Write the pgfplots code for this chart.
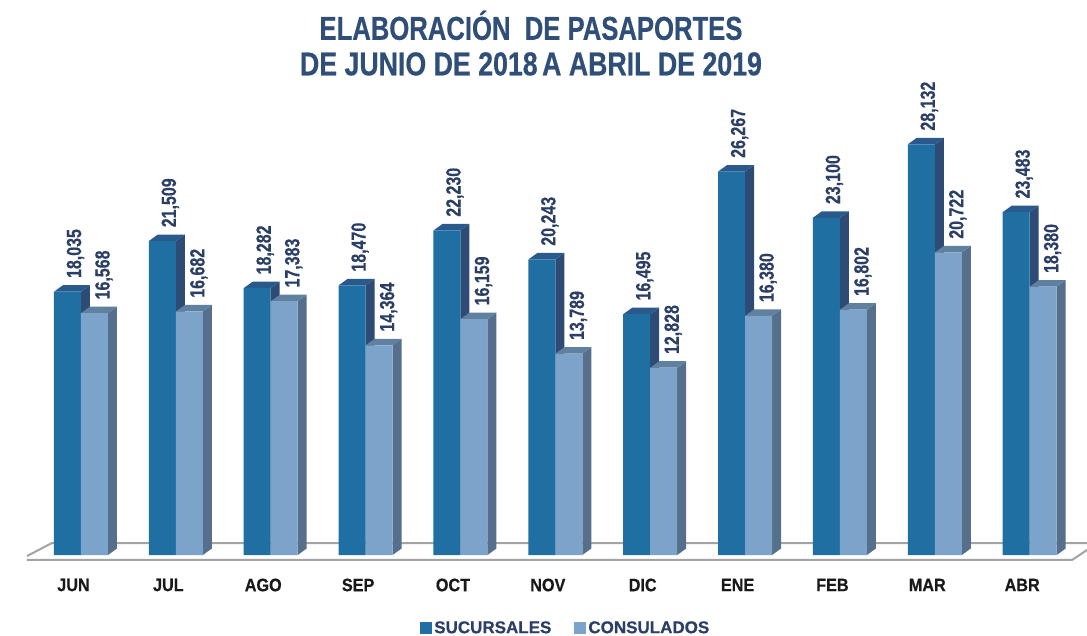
\documentclass[border=0pt]{standalone}
\usepackage{fontspec}
\setmainfont{Liberation Sans}[BoldFeatures={FakeBold=0.6}]
\usepackage{pgfplots}
\usepackage{pgfplotstable}
\pgfplotsset{compat=1.18}

\definecolor{sucfront}{HTML}{1F6FA3}
\definecolor{sucside}{HTML}{2E4B75}
\definecolor{suctop}{HTML}{2A5A8C}
\definecolor{confront}{HTML}{7CA3C9}
\definecolor{conside}{HTML}{566F8D}
\definecolor{contop}{HTML}{60809F}
\definecolor{etiqueta}{HTML}{2B3F66}
\definecolor{titulo}{HTML}{2F4F78}
\definecolor{piso}{HTML}{A3A3A3}

\pgfplotstableread{
x  suc   con
0  18035 16568
1  21509 16682
2  18282 17383
3  18470 14364
4  22230 16159
5  20243 13789
6  16495 12828
7  26267 16380
8  23100 16802
9  28132 20722
10 23483 18380
}\datos

% side and top faces of one series: column, left edge, right edge, side and top colour
\newcommand\caras[5]{%
  \pgfplotsforeachungrouped \i in {0,...,10}{%
    \pgfplotstablegetelem{\i}{#1}\of\datos
    \edef\yt{\pgfplotsretval}%
    \edef\yb{\the\numexpr\yt+445\relax}%
    \pgfmathsetmacro\xl{\i+#2}%
    \pgfmathsetmacro\xr{\i+#3}%
    \pgfmathsetmacro\xlb{\xl+0.0948}%
    \pgfmathsetmacro\xrb{\xr+0.0948}%
    \edef\tmp{\noexpand\addplot[fill=#4,draw=none,forget plot] coordinates
      {(\xr,0) (\xrb,445) (\xrb,\yb) (\xr,\yt)};
      \noexpand\addplot[fill=#5,draw=none,forget plot] coordinates
      {(\xl,\yt) (\xlb,\yb) (\xrb,\yb) (\xr,\yt)};}%
    \tmp
  }%
}

\begin{document}
\begin{tikzpicture}
\useasboundingbox (0,-80pt) rectangle (1087pt,555pt);
\begin{axis}[
    at={(0,0)},
    anchor=south west,
    scale only axis,
    width=1087pt,
    height=555pt,
    xmin=-0.8538,
    xmax=10.6044,
    ymin=0,
    ymax=38018,
    clip=false,
    axis line style={draw=none},
    tick style={draw=none},
    major tick length=0pt,
    ytick=\empty,
    xtick={0,...,10},
    xticklabels={JUN,JUL,AGO,SEP,OCT,NOV,DIC,ENE,FEB,MAR,ABR},
    x tick label style={anchor=center,xshift=-7.5pt,yshift=-30pt,xscale=0.9,
        font=\bfseries\fontsize{18}{20}\selectfont,text=black!90},
    title={\scalebox{0.96}[1]{ELABORACIÓN\ \ DE PASAPORTES}\\DE JUNIO DE 2018\,A ABRIL DE 2019},
    title style={at={(0.4885,1)},anchor=north,yshift=-13pt,align=center,xscale=0.81,
        font=\bfseries\fontsize{33}{35.5}\selectfont,text=titulo},
    legend columns=2,
    legend cell align=left,
    legend style={at={(0.5205,-0.1315)},anchor=center,draw=none,fill=none,
        font=\bfseries\fontsize{17}{18}\selectfont,text=etiqueta,
        /tikz/every even column/.append style={column sep=21pt}},
    /pgf/number format/1000 sep={,},
    /pgf/number format/assume math mode=true,
    nodes near coords style={rotate=90,anchor=west,xshift=11pt,xscale=0.78,
        font=\bfseries\fontsize{20.5}{22}\selectfont,text=etiqueta},
]
% floor
\addplot[draw=piso,line width=2pt,forget plot] coordinates
    {(-0.5695,-73) (-0.3060,822) (10.6044,822)};
\addplot[draw=piso,line width=2pt,forget plot] coordinates
    {(-0.5695,-342) (10.4460,-342) (10.6044,342)};
\caras{suc}{-0.2846}{0}{sucside}{suctop}
\addplot[ybar,bar width=27pt,bar shift=-13.5pt,fill=sucfront,draw=none,
    legend image code/.code={\path[fill=sucfront] (0pt,-6pt) rectangle (12pt,6pt);},
    nodes near coords,every node near coord/.append style={yshift=5.5pt}]
    table[x=x,y=suc] {\datos};
\addlegendentry{SUCURSALES}
\caras{con}{0}{0.2846}{conside}{contop}
\addplot[ybar,bar width=27pt,bar shift=13.5pt,fill=confront,draw=none,
    legend image code/.code={\path[fill=confront] (0pt,-6pt) rectangle (12pt,6pt);},
    nodes near coords,every node near coord/.append style={yshift=-23pt}]
    table[x=x,y=con] {\datos};
\addlegendentry{CONSULADOS}
\end{axis}
\end{tikzpicture}
\end{document}
